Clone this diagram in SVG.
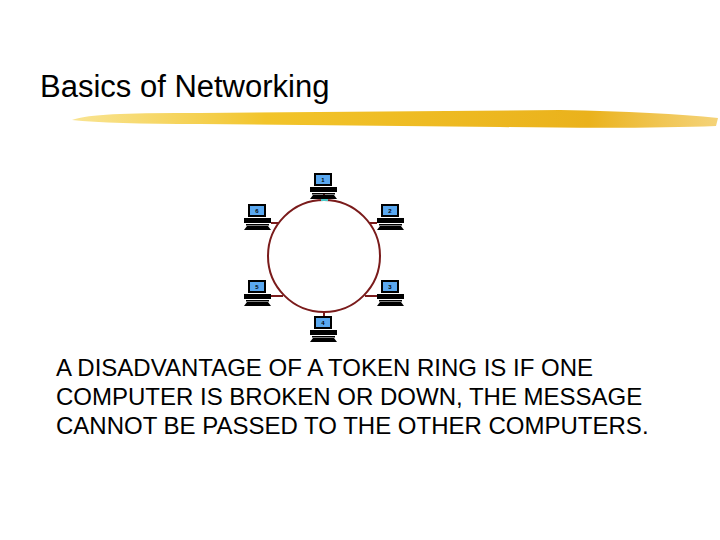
<svg xmlns="http://www.w3.org/2000/svg" width="720" height="540" viewBox="0 0 720 540">
<style>
text{font-family:"Liberation Sans",Arial,sans-serif;fill:#000}
.body{font-size:24px}
.n{font-size:6px;font-weight:bold;text-anchor:middle}
.link{stroke:#7a1b1b;stroke-width:2;fill:none}
</style>
<defs>
<linearGradient id="br" x1="0" x2="1">
<stop offset="0" stop-color="#f5d24a" stop-opacity="0.6"/><stop offset="0.3" stop-color="#f2c42a"/><stop offset="0.8" stop-color="#eab21c"/><stop offset="1" stop-color="#f0c040" stop-opacity="0.7"/>
</linearGradient>
<g id="pc">
<rect x="-9" y="0" width="18" height="13" fill="#000"/>
<rect x="-7" y="2" width="14" height="9" fill="#5aa8f0"/>
<rect x="-13" y="14" width="27" height="5" fill="#000"/>
<rect x="-11" y="20" width="23" height="1.5" fill="#000"/>
<path d="M-13 26 L-10 22 H11 L14 26 Z" fill="#000"/>
</g>
</defs>
<rect width="720" height="540" fill="#fff"/>
<text x="40" y="97" font-size="31">Basics of Networking</text>
<path d="M72 120 Q90 112 200 113 L560 110 Q660 112 718 118 L716 126 Q640 129 500 127 L200 124 Q110 124 72 120 Z" fill="url(#br)"/>
<g id="connectors">
<circle class="link" cx="324" cy="256" r="56"/>
<line class="link" x1="324" y1="193" x2="324" y2="200"/>
<rect x="321" y="198" width="7" height="3" fill="#4cc9c9"/>
<line class="link" x1="271" y1="223" x2="279" y2="223"/>
<line class="link" x1="369" y1="223" x2="377" y2="223"/>
<line class="link" x1="271" y1="296" x2="283" y2="296"/>
<line class="link" x1="365" y1="296" x2="377" y2="296"/>
<line class="link" x1="324" y1="312" x2="324" y2="317"/>
</g>
<g id="pc1"><use href="#pc" x="323" y="173"/><text class="n" x="323" y="182">1</text></g>
<g id="pc2"><use href="#pc" x="390" y="204"/><text class="n" x="390" y="213">2</text></g>
<g id="pc3"><use href="#pc" x="390" y="280"/><text class="n" x="390" y="289">3</text></g>
<g id="pc4"><use href="#pc" x="323" y="316"/><text class="n" x="323" y="325">4</text></g>
<g id="pc5"><use href="#pc" x="257" y="280"/><text class="n" x="257" y="289">5</text></g>
<g id="pc6"><use href="#pc" x="257" y="204"/><text class="n" x="257" y="213">6</text></g>
<g id="caption" class="body">
<text x="56" y="376">A DISADVANTAGE OF A TOKEN RING IS IF ONE</text>
<text x="56" y="405">COMPUTER IS BROKEN OR DOWN, THE MESSAGE</text>
<text x="56" y="434">CANNOT BE PASSED TO THE OTHER COMPUTERS.</text>
</g>
</svg>
